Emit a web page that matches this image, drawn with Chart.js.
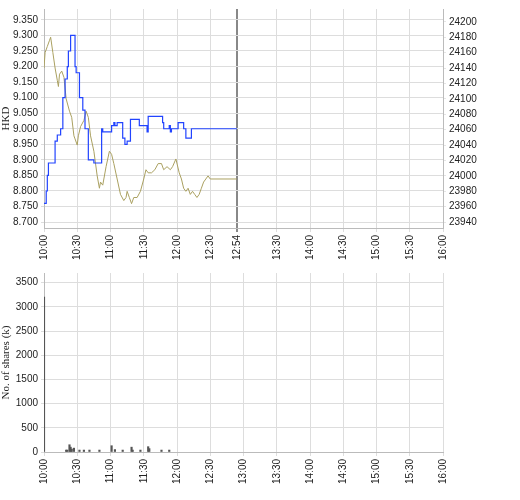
<!DOCTYPE html>
<html>
<head>
<meta charset="utf-8">
<script src="https://cdn.jsdelivr.net/npm/chart.js@4"></script>
<style>
  body { margin: 0; background: #fff; }
  #wrap { position: relative; width: 520px; height: 500px; }
  .box { position: absolute; left: 0; width: 520px; }
</style>
</head>
<body>
<div id="wrap">
  <div class="box" style="top:0;height:262px"><canvas id="priceChart"></canvas></div>
  <div class="box" style="top:262px;height:238px"><canvas id="volChart"></canvas></div>
</div>
<script>
// minutes after 10:00
var stockMin = [0, 2, 3, 4, 9, 10, 12, 15, 17, 19, 21, 22, 24, 26, 28, 29, 32, 35, 37, 40, 45, 51, 52, 53, 60, 61, 63, 64, 66, 69, 71, 73, 75, 78, 85, 86, 92, 93, 94, 104, 107, 108, 112, 113, 114, 115, 120, 121, 125, 126, 128, 132, 133, 174];
var stockVal = [8.76, 8.80, 8.85, 8.89, 8.89, 8.96, 8.98, 9.00, 9.10, 9.16, 9.20, 9.25, 9.30, 9.30, 9.20, 9.18, 9.10, 9.06, 9.00, 8.90, 8.89, 8.89, 9.00, 8.99, 8.99, 9.01, 9.02, 9.01, 9.02, 9.02, 8.97, 8.95, 8.96, 9.03, 9.03, 9.01, 9.01, 8.99, 9.04, 9.04, 9.02, 9.00, 9.00, 9.01, 8.99, 9.00, 9.00, 9.02, 9.02, 9.00, 8.97, 8.97, 9.00, 9.00];
var indexMin = [0, 1, 3, 5, 6, 8, 10, 12, 13, 14, 16, 18, 20, 23, 25, 27, 28, 30, 31, 33, 36, 38, 40, 42, 45, 48, 50, 51, 53, 56, 59, 61, 63, 66, 69, 72, 74, 75, 77, 79, 81, 84, 87, 90, 92, 94, 97, 100, 103, 106, 108, 111, 114, 116, 119, 122, 124, 126, 128, 130, 132, 134, 136, 138, 140, 142, 144, 146, 148, 150, 174];
var indexVal = [24140, 24160, 24168, 24176, 24180, 24160, 24140, 24124, 24116, 24132, 24136, 24128, 24100, 24084, 24076, 24052, 24048, 24040, 24052, 24064, 24072, 24084, 24076, 24052, 24032, 24000, 23984, 23992, 23988, 24012, 24032, 24028, 24016, 23996, 23976, 23968, 23972, 23980, 23972, 23964, 23972, 23972, 23980, 23996, 24008, 24004, 24004, 24008, 24016, 24016, 24008, 24012, 24008, 24012, 24022, 24004, 23996, 23984, 23980, 23984, 23976, 23980, 23976, 23972, 23976, 23984, 23992, 23996, 24000, 23996, 23996];
var volMin = [0, 20, 21, 23, 24, 25, 27, 32, 36, 41, 50, 61, 64, 71, 79, 80, 87, 94, 95, 106, 113];
var volVal = [3200, 40, 40, 150, 100, 60, 80, 40, 40, 40, 40, 130, 50, 40, 100, 40, 40, 110, 70, 40, 40];
var topTicks = [0, 30, 60, 90, 120, 150, 174, 210, 240, 270, 300, 330, 360];
var bottomTicks = [0, 30, 60, 90, 120, 150, 180, 210, 240, 270, 300, 330, 360];
var hkdTicks = [8.70, 8.75, 8.80, 8.85, 8.90, 8.95, 9.00, 9.05, 9.10, 9.15, 9.20, 9.25, 9.30, 9.35];
var idxTicks = [23940, 23960, 23980, 24000, 24020, 24040, 24060, 24080, 24100, 24120, 24140, 24160, 24180, 24200];
var volTicks = [0, 500, 1000, 1500, 2000, 2500, 3000, 3500];
var nowMin = 174;

function pts(xs, ys) { return xs.map(function (x, i) { return { x: x, y: ys[i] }; }); }
function hhmm(m) {
  var h = 10 + Math.floor(m / 60), mm = m % 60;
  return h + ':' + (mm < 10 ? '0' : '') + mm;
}
function plain(v) { return String(v); }
function fixTicks(list) { return function (s) { s.ticks = list.map(function (v) { return { value: v }; }); }; }
var tickFont = { family: 'Liberation Sans', size: 10 };
var tickColor = '#222';

function xAxis(list) {
  var isTop = list === topTicks;
  return {
    type: 'linear', min: 0, max: 360, offset: false,
    afterBuildTicks: fixTicks(list),
    afterFit: function (s) { s.height = 34; },
    ticks: { font: tickFont, color: tickColor, minRotation: 90, maxRotation: 90, autoSkip: false, callback: hhmm },
    grid: {
      offset: false,
      color: function (c) { return isTop && c.tick && c.tick.value === nowMin ? '#888' : '#ddd'; },
      lineWidth: function (c) { return isTop && c.tick && c.tick.value === nowMin ? 2 : 1; },
      tickLength: 4
    },
    border: { color: '#bbb' }
  };
}

new Chart('priceChart', {
  type: 'line',
  data: {
    datasets: [
      { data: pts(stockMin, stockVal), borderColor: '#2244ff', borderWidth: 1.2, stepped: true, pointRadius: 0, yAxisID: 'y' },
      { data: pts(indexMin, indexVal), borderColor: '#aaa060', borderWidth: 1, pointRadius: 0, yAxisID: 'y1' }
    ]
  },
  options: {
    responsive: true, maintainAspectRatio: false, animation: false,
    layout: { padding: { top: 5, right: 27, bottom: 0, left: 0 } },
    plugins: { legend: { display: false }, tooltip: { enabled: false } },
    scales: {
      x: xAxis(topTicks),
      y: {
        min: 8.681, max: 9.385,
        afterBuildTicks: fixTicks(hkdTicks),
        afterFit: function (s) { s.width = 44; },
        title: { display: true, text: 'HKD', font: { family: 'Liberation Serif', size: 11 }, color: '#222', padding: 0 },
        ticks: { font: tickFont, color: tickColor, callback: function (v) { return v.toFixed(3); } },
        grid: { color: '#ddd', tickLength: 3 },
        border: { color: '#bbb' }
      },
      y1: {
        position: 'right', min: 23932.4, max: 24216.6,
        afterBuildTicks: fixTicks(idxTicks),
        afterFit: function (s) { s.width = 50; },
        ticks: { font: tickFont, color: tickColor, callback: plain },
        grid: { drawOnChartArea: false, tickLength: 3 },
        border: { color: '#bbb' }
      }
    }
  }
});

new Chart('volChart', {
  type: 'bar',
  data: {
    datasets: [
      { data: pts(volMin, volVal), backgroundColor: '#555', barThickness: 1.5 }
    ]
  },
  options: {
    responsive: true, maintainAspectRatio: false, animation: false,
    layout: { padding: { top: 11, right: 77, bottom: 14, left: 0 } },
    plugins: { legend: { display: false }, tooltip: { enabled: false } },
    scales: {
      x: xAxis(bottomTicks),
      y: {
        min: 0, max: 3700,
        afterBuildTicks: fixTicks(volTicks),
        afterFit: function (s) { s.width = 44; },
        title: { display: true, text: 'No. of shares (k)', font: { family: 'Liberation Serif', size: 11 }, color: '#222', padding: 0 },
        ticks: { font: tickFont, color: tickColor, callback: plain },
        grid: { color: '#ddd', tickLength: 3 },
        border: { color: '#bbb' }
      }
    }
  }
});
</script>
</body>
</html>
